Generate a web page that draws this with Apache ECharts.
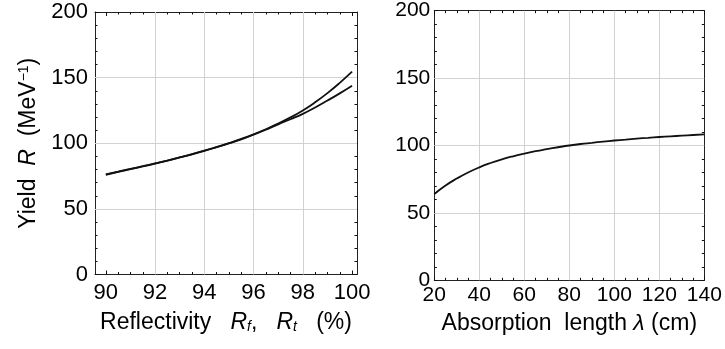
<!DOCTYPE html>
<html>
<head>
<meta charset="utf-8">
<script src="https://cdn.jsdelivr.net/npm/echarts@6/dist/echarts.min.js"></script>
<style>
html,body{margin:0;padding:0;background:#fff;}
#chart{width:725px;height:349px;}
</style>
</head>
<body>
<div id="chart"></div>
<script>
// ---- data ----
const reflX = [90, 90.5, 91, 91.5, 92, 92.5, 93, 93.5, 94, 94.5, 95, 95.5, 96, 96.5, 97, 97.5, 98, 98.5, 99, 99.5, 100];
const yieldUpper = [76.0, 78.1, 80.2, 82.3, 84.5, 86.8, 89.2, 91.7, 94.3, 97.1, 100.1, 103.3, 106.8, 110.7, 115.0, 119.7, 125.0, 131.2, 138.2, 146.0, 154.5];
const yieldLower = [76.3, 78.4, 80.5, 82.5, 84.6, 86.8, 89.2, 91.6, 94.2, 97.0, 99.9, 103.0, 106.5, 110.3, 114.4, 118.3, 122.4, 127.2, 132.5, 138.0, 143.8];
const absX = [20, 25, 30, 35, 40, 45, 50, 55, 60, 65, 70, 75, 80, 85, 90, 95, 100, 105, 110, 115, 120, 125, 130, 135, 140];
const absY = [64.0, 70.3, 75.5, 80.0, 83.8, 87.0, 89.7, 92.0, 94.0, 95.8, 97.3, 98.7, 100.0, 101.1, 102.0, 102.9, 103.7, 104.4, 105.1, 105.7, 106.3, 106.8, 107.3, 107.8, 108.3];

// tick values
const leftXMajor = [90, 92, 94, 96, 98, 100];
const leftXMinor = [90.5, 91, 91.5, 92.5, 93, 93.5, 94.5, 95, 95.5, 96.5, 97, 97.5, 98.5, 99, 99.5];
const leftXGrid = [92, 94, 96, 98];
const rightXMajor = [20, 40, 60, 80, 100, 120, 140];
const rightXMinor = [25, 30, 35, 45, 50, 55, 65, 70, 75, 85, 90, 95, 105, 110, 115, 125, 130, 135];
const rightXGrid = [40, 60, 80, 100, 120];
const yMajor = [0, 50, 100, 150, 200];
const yMinor = [10, 20, 30, 40, 60, 70, 80, 90, 110, 120, 130, 140, 160, 170, 180, 190];
const yGrid = [50, 100, 150];

const FONT = '"Liberation Sans", Arial, Helvetica, sans-serif';
const pair = (xs, ys) => xs.map((x, i) => [x, ys[i]]);

function axis(grid, pos, min, max, ticks, len, lineShow, labelOpt) {
  const a = {
    type: 'value', gridIndex: grid, position: pos, min: min, max: max,
    axisLine: {show: lineShow, onZero: false, lineStyle: {color: '#222', width: 1}},
    axisTick: {show: true, inside: true, length: len, customValues: ticks, lineStyle: {color: '#111', width: 1}},
    splitLine: {show: false},
    axisLabel: {show: false}
  };
  if (labelOpt) {
    a.axisLabel = Object.assign({show: true, customValues: ticks, color: '#000', fontFamily: FONT}, labelOpt);
  }
  return a;
}

const L = {xmin: 89.56, xmax: 100.2};
const R = {xmin: 20, xmax: 140};

const xAxes = [
  axis(0, 'bottom', L.xmin, L.xmax, leftXMajor, 4, true, {fontSize: 22, margin: 7}),
  axis(0, 'bottom', L.xmin, L.xmax, leftXMinor, 2.5, false, null),
  axis(0, 'top', L.xmin, L.xmax, leftXMajor, 4, true, null),
  axis(0, 'top', L.xmin, L.xmax, leftXMinor, 2.5, false, null),
  axis(1, 'bottom', R.xmin, R.xmax, rightXMajor, 4, true, {fontSize: 21, margin: 4}),
  axis(1, 'bottom', R.xmin, R.xmax, rightXMinor, 2.5, false, null),
  axis(1, 'top', R.xmin, R.xmax, rightXMajor, 4, true, null),
  axis(1, 'top', R.xmin, R.xmax, rightXMinor, 2.5, false, null)
];
const yAxes = [
  axis(0, 'left', 0, 200, yMajor, 4, true, {fontSize: 22, margin: 7}),
  axis(0, 'left', 0, 200, yMinor, 2.5, false, null),
  axis(0, 'right', 0, 200, yMajor, 4, true, null),
  axis(0, 'right', 0, 200, yMinor, 2.5, false, null),
  axis(1, 'left', 0, 200, yMajor, 4, true, {fontSize: 21, margin: 4}),
  axis(1, 'left', 0, 200, yMinor, 2.5, false, null),
  axis(1, 'right', 0, 200, yMajor, 4, true, null),
  axis(1, 'right', 0, 200, yMinor, 2.5, false, null)
];

// axis titles
const titleFs = 23;
const richBase = {
  n: {fontSize: titleFs, fontFamily: FONT, color: '#000'},
  i: {fontSize: titleFs, fontFamily: FONT, fontStyle: 'italic', color: '#000'},
  s: {fontSize: 14, fontFamily: FONT, fontStyle: 'italic', color: '#000', verticalAlign: 'bottom'},
  sup: {fontSize: 14, fontFamily: FONT, color: '#000', verticalAlign: 'top'}
};
Object.assign(xAxes[0], {
  name: '{n|Reflectivity   }{i|R}{s|f}{n|,   }{i|R}{s|t}{n|   (%)}',
  nameLocation: 'middle', nameGap: 37,
  nameTextStyle: {rich: richBase}
});
Object.assign(xAxes[4], {
  name: '{n|Absorption  length }{i|λ}{n| (cm)}',
  nameLocation: 'middle', nameGap: 32,
  nameTextStyle: {rich: richBase}
});
Object.assign(yAxes[0], {
  name: '{n|Yield  }{i|R}{n|  (MeV}{sup|−1}{n|)}',
  nameLocation: 'middle', nameGap: 55, nameRotate: 90,
  nameTextStyle: {rich: richBase}
});

const curveStyle = {color: '#111', width: 1.8};
function gridMarks(xs, ys) {
  return {
    silent: true, symbol: ['none', 'none'], z: 1, animation: false,
    label: {show: false},
    lineStyle: {color: '#d2d2d2', width: 1, type: 'solid'},
    emphasis: {disabled: true},
    data: xs.map(v => ({xAxis: v})).concat(ys.map(v => ({yAxis: v})))
  };
}

const option = {
  animation: false,
  backgroundColor: '#fff',
  grid: [
    {left: 95, top: 12, width: 262, height: 262.5},
    {left: 434.3, top: 10.7, width: 270, height: 269.6}
  ],
  xAxis: xAxes,
  yAxis: yAxes,
  series: [
    {type: 'line', xAxisIndex: 0, yAxisIndex: 0, data: pair(reflX, yieldUpper), smooth: true,
     showSymbol: false, lineStyle: curveStyle, z: 3, emphasis: {disabled: true},
     markLine: gridMarks(leftXGrid, yGrid)},
    {type: 'line', xAxisIndex: 0, yAxisIndex: 0, data: pair(reflX, yieldLower), smooth: true,
     showSymbol: false, lineStyle: curveStyle, z: 3, emphasis: {disabled: true}},
    {type: 'line', xAxisIndex: 4, yAxisIndex: 4, data: pair(absX, absY), smooth: true,
     showSymbol: false, lineStyle: curveStyle, z: 3, emphasis: {disabled: true},
     markLine: gridMarks(rightXGrid, yGrid)}
  ]
};

const chart = echarts.init(document.getElementById('chart'), null, {renderer: 'canvas'});
chart.setOption(option);
</script>
</body>
</html>
